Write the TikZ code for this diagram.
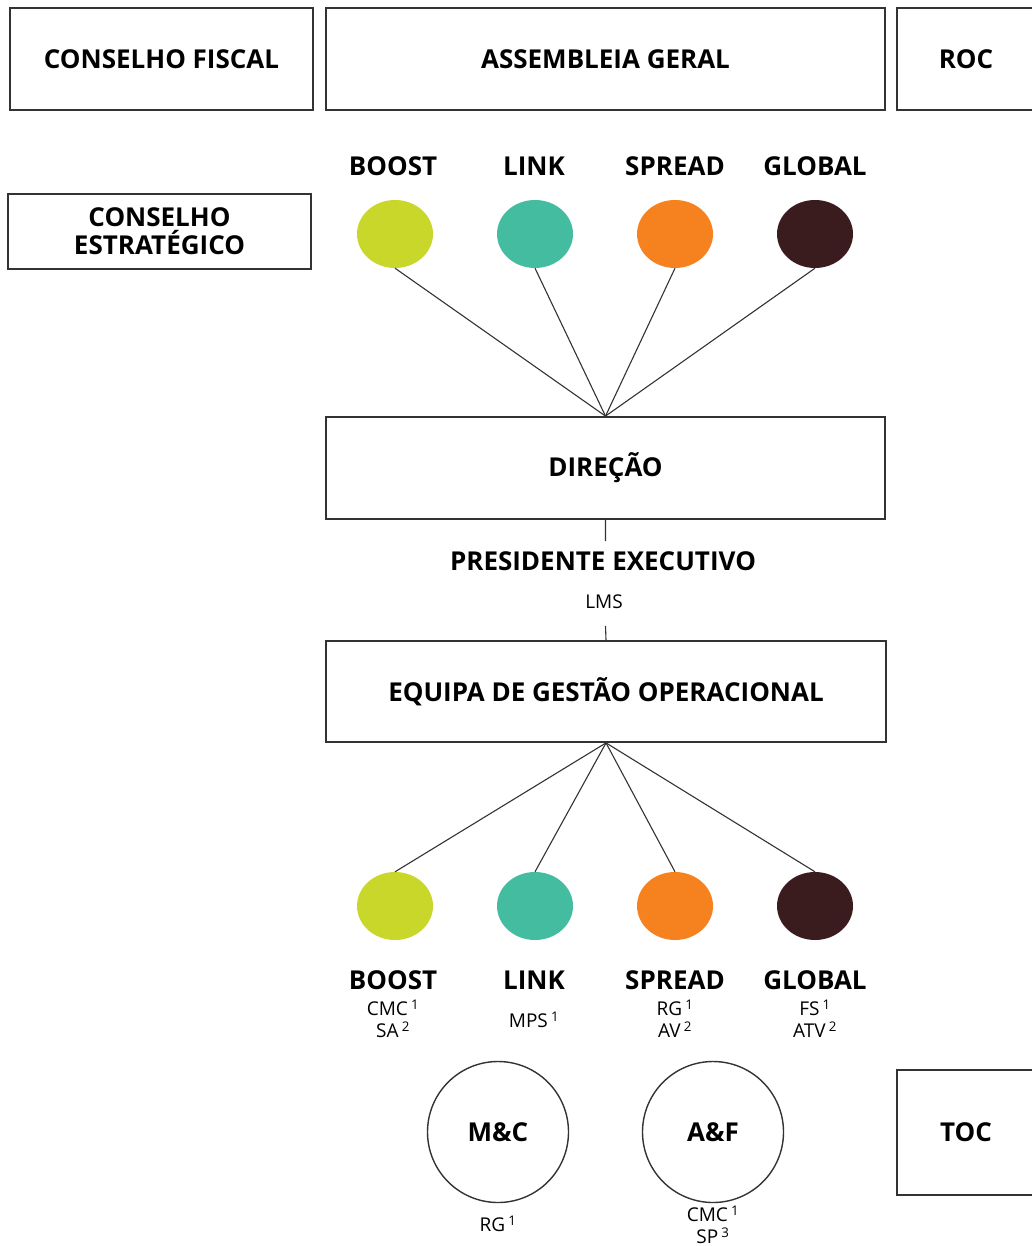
\documentclass[tikz,border=0pt]{standalone}
\usepackage{fontspec}
\setmainfont{Open Sans}
\usetikzlibrary{shapes.geometric}

\definecolor{boostc}{HTML}{C9D72A}
\definecolor{linkc}{HTML}{43BCA0}
\definecolor{spreadc}{HTML}{F5821F}
\definecolor{globalc}{HTML}{3A1C1F}
\definecolor{edge}{HTML}{333333}

\tikzset{
	box/.style={draw=edge, line width=1.8pt, inner sep=0pt},
	ttl/.style={font=\bfseries\fontsize{26}{30}\selectfont, align=center},
	sub/.style={font=\fontsize{19}{22}\selectfont, align=center},
	dot/.style={ellipse, minimum width=76pt, minimum height=68pt, inner sep=0pt},
	ring/.style={circle, draw=edge, line width=1.4pt, minimum size=141pt, inner sep=0pt},
	link/.style={line width=1.1pt, draw=edge}
}
\newcommand{\supn}[1]{\,\textsuperscript{#1}}

\begin{document}
\begin{tikzpicture}[x=1pt,y=-1pt]
	\useasboundingbox (0,0) rectangle (1032,1246);
	% top row
	\draw (161.5,59) node[box, ttl, minimum width=303pt, minimum height=102pt](cf){CONSELHO FISCAL};
	\draw (605.5,59) node[box, ttl, minimum width=559pt, minimum height=102pt](ag){ASSEMBLEIA GERAL};
	\draw (1000,59) node[box, minimum width=206pt, minimum height=102pt](roc){};
	\draw (966,59) node[ttl](roc-t){ROC};
	\draw (159.5,231.5) node[box, ttl, minimum width=303pt, minimum height=75pt](ce){CONSELHO\\[-2pt]ESTRATÉGICO};
	% strategic circles
	\draw (393,166) node[ttl](bt-1){BOOST} (534,166) node[ttl](bt-2){LINK}
		(675,166) node[ttl](bt-3){SPREAD} (815,166) node[ttl](bt-4){GLOBAL};
	\draw (395,234) node[dot, fill=boostc](b-1){} (535,234) node[dot, fill=linkc](b-2){}
		(675,234) node[dot, fill=spreadc](b-3){} (815,234) node[dot, fill=globalc](b-4){};
	% direction
	\draw (605.5,468) node[box, ttl, minimum width=559pt, minimum height=102pt](dir){DIREÇÃO};
	\foreach \i in {1,...,4} \draw[link] (b-\i.south) -- (dir.north);
	\draw (603,561) node[ttl](pe){PRESIDENTE EXECUTIVO};
	\draw (604,602) node[sub](lms){LMS};
	\coordinate (pe-a) at (605.5,541);
	\coordinate (pe-b) at (605.5,626);
	\draw (606,691.5) node[box, ttl, minimum width=560pt, minimum height=101pt](eq){EQUIPA DE GESTÃO OPERACIONAL};
	\draw[link] (dir.south) -- (pe-a) (pe-b) -- (eq.north);
	% operational circles
	\draw (395,906) node[dot, fill=boostc](o-1){} (535,906) node[dot, fill=linkc](o-2){}
		(675,906) node[dot, fill=spreadc](o-3){} (815,906) node[dot, fill=globalc](o-4){};
	\foreach \i in {1,...,4} \draw[link] (eq.south) -- (o-\i.north);
	\draw (393,980) node[ttl](ot-1){BOOST} (534,980) node[ttl](ot-2){LINK}
		(675,980) node[ttl](ot-3){SPREAD} (815,980) node[ttl](ot-4){GLOBAL};
	\draw (393,1019) node[sub](os-1){CMC\supn{1}\\SA\supn{2}}
		(534,1020) node[sub](os-2){MPS\supn{1}}
		(675,1019) node[sub](os-3){RG\supn{1}\\AV\supn{2}}
		(815,1019) node[sub](os-4){FS\supn{1}\\ATV\supn{2}};
	% support units
	\draw (498,1132) node[ring, ttl](mc){M\&C} (713,1132) node[ring, ttl](af){A\&F};
	\draw (1000,1132.5) node[box, minimum width=206pt, minimum height=125pt](toc){};
	\draw (966,1132) node[ttl](toc-t){TOC};
	\draw (498,1224) node[sub](mc-s){RG\supn{1}}
		(713,1225) node[sub](af-s){CMC\supn{1}\\SP\supn{3}};
\end{tikzpicture}
\end{document}
